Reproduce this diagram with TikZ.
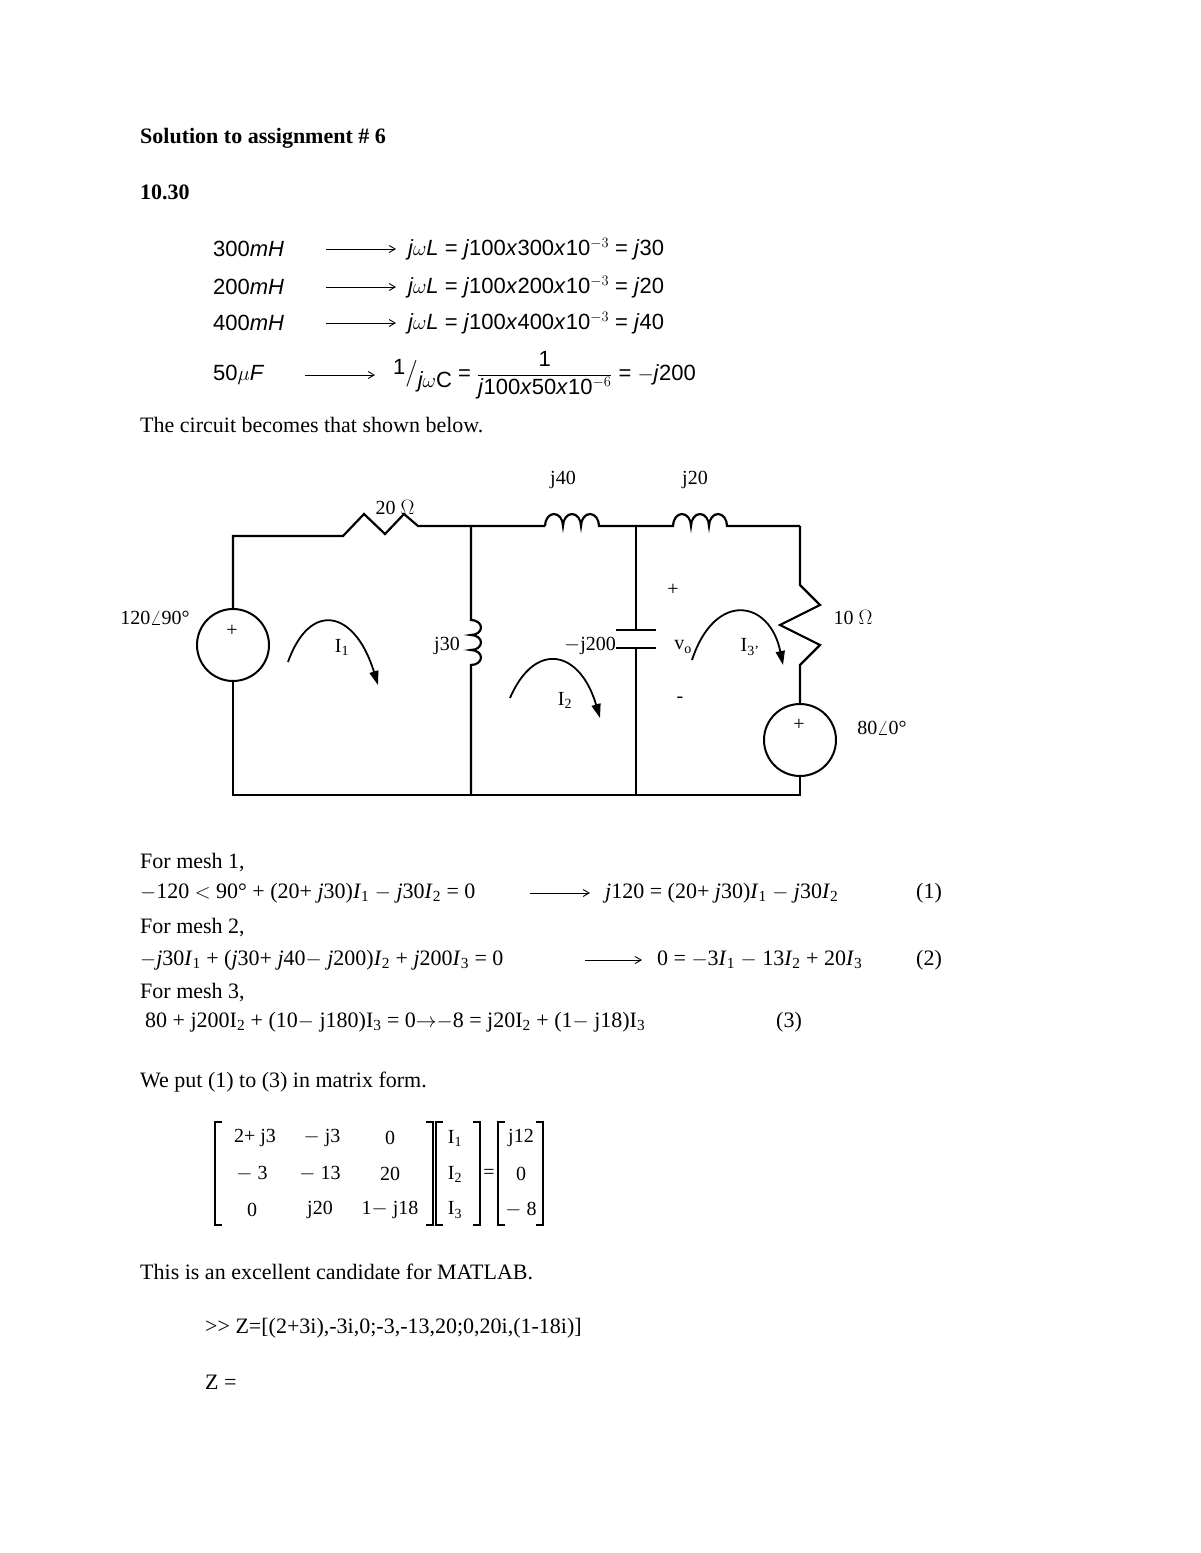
\documentclass[tikz,border=0pt]{standalone}
\usepackage{fontspec}
\setmainfont{Liberation Serif}
\newfontfamily\gsans{Liberation Sans}
\usetikzlibrary{arrows.meta}
\newcommand{\ii}[1]{\textit{#1}}
\begin{document}
\begin{tikzpicture}[x=1pt,y=-1pt,
  txt/.style={anchor=west,inner sep=0pt,font=\fontsize{22}{26}\selectfont},
  gs/.style={anchor=west,inner sep=0pt,font=\gsans\fontsize{22}{26}\selectfont},
  lbl/.style={inner sep=0pt,font=\fontsize{20}{24}\selectfont},
  w/.style={line width=2.2pt},
  la/.style={line width=0.9pt,-{Straight Barb[length=6pt,width=7pt]}},
  marc/.style={line width=1.8pt,-{Triangle[length=14pt,width=9pt]}}]
\useasboundingbox (0,0) rectangle (1200,1553);
% header
\node[txt,font=\bfseries\fontsize{22}{26}\selectfont] (h1) at (140,138) {Solution to assignment \# 6};
\node[txt,font=\bfseries\fontsize{22}{26}\selectfont] (h2) at (140,192) {10.30};
\node[gs] (c1a) at (213,249) {300\ii{mH}};
\coordinate (c1s) at (326,249); \coordinate (c1e) at (396,249);
\draw[la] (c1s) -- (c1e);
\node[gs] (c1c) at (408,249) {\ii{j$\omega$L} = \ii{j}100\ii{x}300\ii{x}10$^{-3}$ = \ii{j}30};
\node[gs] (c2a) at (213,287) {200\ii{mH}};
\coordinate (c2s) at (326,287); \coordinate (c2e) at (396,287);
\draw[la] (c2s) -- (c2e);
\node[gs] (c2c) at (408,287) {\ii{j$\omega$L} = \ii{j}100\ii{x}200\ii{x}10$^{-3}$ = \ii{j}20};
\node[gs] (c3a) at (213,323) {400\ii{mH}};
\coordinate (c3s) at (326,323); \coordinate (c3e) at (396,323);
\draw[la] (c3s) -- (c3e);
\node[gs] (c3c) at (408,323) {\ii{j$\omega$L} = \ii{j}100\ii{x}400\ii{x}10$^{-3}$ = \ii{j}40};
\node[gs] (c4a) at (213,375) {50\ii{$\mu$F}};
\coordinate (c4s) at (305,375); \coordinate (c4e) at (375,375);
\draw[la] (c4s) -- (c4e);
\node[gs] (c4c) at (393,375) {\raisebox{6pt}{1}\scalebox{1.3}{$\big/$}\raisebox{-7pt}{\ii{j$\omega$}C} = $\displaystyle\frac{\mbox{1}}{\mbox{\ii{j}100\ii{x}50\ii{x}10$^{-6}$}}$ = $-$\ii{j}200};
\node[txt] (t1) at (140,425) {The circuit becomes that shown below.};
% circuit
\coordinate (a) at (233,536); \coordinate (b) at (471,526); \coordinate (c) at (636,526); \coordinate (d) at (800,526);
\coordinate (ab) at (233,795); \coordinate (bb) at (471,795); \coordinate (cb) at (636,795); \coordinate (db) at (800,795);
\node[draw,circle,line width=2pt,minimum size=72pt] (s1) at (233,645) {};
\node[lbl] (s1p) at (232,631) {+};
\node[draw,circle,line width=2pt,minimum size=72pt] (s2) at (800,740) {};
\node[lbl] (s2p) at (799,725) {+};
\draw[w] (s1.north) -- (a) -- (343,536) -- (364,514) -- (385,534) -- (404,514) -- (418,526) -- (b) -- (545,526);
\draw[w] (545,526) arc (180:360:9 and 12) arc (180:360:9 and 12) arc (180:360:9 and 12) -- (c);
\draw[w] (c) -- (673,526) arc (180:360:9 and 12) arc (180:360:9 and 12) arc (180:360:9 and 12) -- (d);
\draw[w] (d) -- (800,585) -- (820,605) -- (780,625) -- (820,645) -- (800,665) -- (s2.north);
\draw[w] (s2.south) -- (db) -- (ab) -- (s1.south);
\draw[w] (b) -- (471,620) arc (-90:90:10 and 7.5) arc (-90:90:10 and 7.5) arc (-90:90:10 and 7.5) -- (bb);
\draw[w] (c) -- (636,630); \draw[w] (636,648) -- (cb);
\draw[w] (616,630) -- (656,630); \draw[w] (616,648) -- (656,648);
\draw[marc] (288,662) .. controls (310,600) and (355,610) .. (378,685);
\draw[marc] (510,698) .. controls (535,640) and (580,650) .. (600,718);
\draw[marc] (692,660) .. controls (715,590) and (770,600) .. (783,665);
\node[lbl] (l20) at (395,508) {20 $\Omega$};
\node[lbl] (l40) at (563,480) {j40};
\node[lbl] (l20b) at (695,480) {j20};
\node[lbl] (l120) at (155,618) {120$\angle$90°};
\node[lbl] (l10) at (853,618) {10 $\Omega$};
\node[lbl] (l80) at (882,728) {80$\angle$0°};
\node[lbl] (l30) at (447,646) {j30};
\node[lbl] (l200) at (590,646) {$-$j200};
\node[lbl] (lp) at (673,590) {+};
\node[lbl] (lv) at (683,647) {v\textsubscript{o}};
\node[lbl] (lm) at (680,700) {-};
\node[lbl] (li1) at (342,647) {I\textsubscript{1}};
\node[lbl] (li2) at (565,700) {I\textsubscript{2}};
\node[lbl] (li3) at (750,647) {I\textsubscript{3'}};
% mesh equations
\node[txt] (m1) at (140,863) {For mesh 1,};
\node[txt] (e1) at (140,893) {$-$120 $<$ 90° + (20+ \ii{j}30)\ii{I}\textsubscript{1} $-$ \ii{j}30\ii{I}\textsubscript{2} = 0};
\coordinate (e1s) at (530,893); \coordinate (e1e) at (590,893);
\draw[la] (e1s) -- (e1e);
\node[txt] (e1b) at (605,893) {\ii{j}120 = (20+ \ii{j}30)\ii{I}\textsubscript{1} $-$ \ii{j}30\ii{I}\textsubscript{2}};
\node[txt] (n1) at (916,893) {(1)};
\node[txt] (m2) at (140,928) {For mesh 2,};
\node[txt] (e2) at (140,960) {$-$\ii{j}30\ii{I}\textsubscript{1} + (\ii{j}30+ \ii{j}40$-$ \ii{j}200)\ii{I}\textsubscript{2} + \ii{j}200\ii{I}\textsubscript{3} = 0};
\coordinate (e2s) at (585,960); \coordinate (e2e) at (642,960);
\draw[la] (e2s) -- (e2e);
\node[txt] (e2b) at (657,960) {0 = $-$3\ii{I}\textsubscript{1} $-$ 13\ii{I}\textsubscript{2} + 20\ii{I}\textsubscript{3}};
\node[txt] (n2) at (916,960) {(2)};
\node[txt] (m3) at (140,993) {For mesh 3,};
\node[txt] (e3) at (145,1022) {80 + j200I\textsubscript{2} + (10$-$ j180)I\textsubscript{3} = 0$\rightarrow$$-$8 = j20I\textsubscript{2} + (1$-$ j18)I\textsubscript{3}};
\node[txt] (n3) at (776,1022) {(3)};
\node[txt] (wp) at (140,1082) {We put (1) to (3) in matrix form.};
% matrix
\tikzset{br/.style={line width=1.3pt}}
\draw[br] (222,1122) -- (215,1122) -- (215,1225) -- (222,1225);
\draw[br] (426,1122) -- (433,1122) -- (433,1225) -- (426,1225);
\draw[br] (443,1122) -- (436,1122) -- (436,1225) -- (443,1225);
\draw[br] (473,1122) -- (480,1122) -- (480,1225) -- (473,1225);
\draw[br] (505,1122) -- (498,1122) -- (498,1225) -- (505,1225);
\draw[br] (536,1122) -- (543,1122) -- (543,1225) -- (536,1225);
\node[lbl] (a11) at (255,1138) {2+ j3};
\node[lbl] (a12) at (322,1138) {$-$ j3};
\node[lbl] (a13) at (390,1138) {0};
\node[lbl] (a21) at (252,1174) {$-$ 3};
\node[lbl] (a22) at (320,1174) {$-$ 13};
\node[lbl] (a23) at (390,1174) {20};
\node[lbl] (a31) at (252,1210) {0};
\node[lbl] (a32) at (320,1210) {j20};
\node[lbl] (a33) at (390,1210) {1$-$ j18};
\node[lbl] (x1) at (455,1138) {I\textsubscript{1}};
\node[lbl] (x2) at (455,1174) {I\textsubscript{2}};
\node[lbl] (x3) at (455,1210) {I\textsubscript{3}};
\node[lbl] (eq) at (489,1174) {=};
\node[lbl] (r1) at (521,1138) {j12};
\node[lbl] (r2) at (521,1174) {0};
\node[lbl] (r3) at (521,1210) {$-$ 8};
\node[txt] (tm) at (140,1272) {This is an excellent candidate for MATLAB.};
\node[txt] (z1) at (205,1328) {\textgreater{}\textgreater{} Z=[(2+3i),-3i,0;-3,-13,20;0,20i,(1-18i)]};
\node[txt] (z2) at (205,1382) {Z =};
\end{tikzpicture}
\end{document}
